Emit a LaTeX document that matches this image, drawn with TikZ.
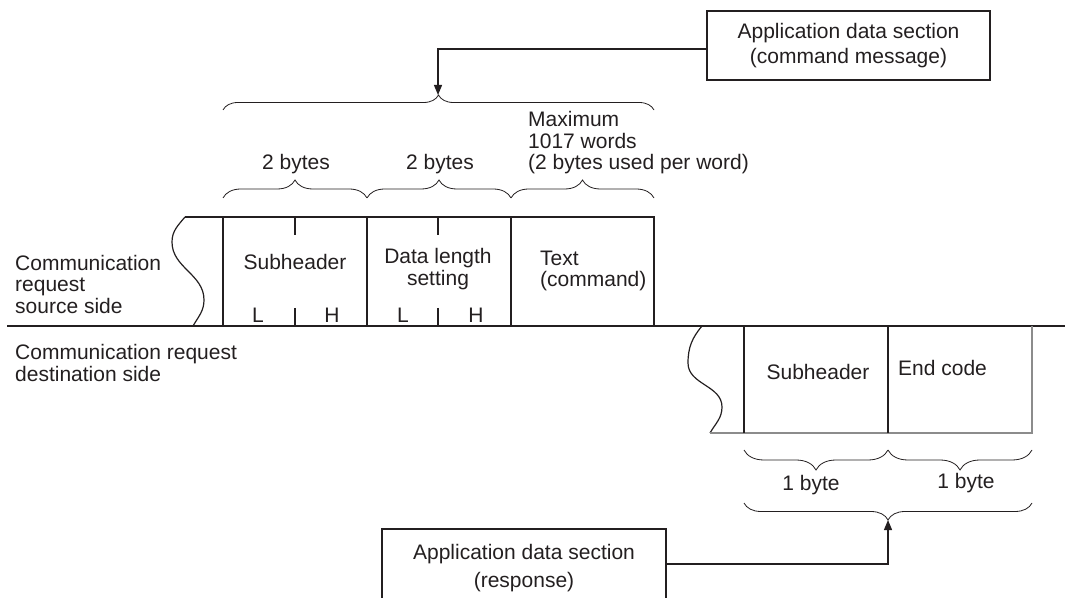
\documentclass[tikz,border=0pt]{standalone}
\usepackage{fontspec}
\setmainfont{Liberation Sans}
\usetikzlibrary{arrows.meta, positioning, calc, decorations.pathreplacing}
\definecolor{inkdark}{RGB}{35,31,32}
\definecolor{edgegray}{RGB}{140,140,140}
\tikzset{
  line/.style={draw=inkdark, line width=1.2pt},
  gline/.style={draw=edgegray, line width=1.2pt},
  arrow/.style={draw=inkdark, line width=1.2pt, -{Triangle[length=10pt, width=8pt]}},
  brace/.style={draw=inkdark, line width=0.8pt, decorate, decoration={brace, amplitude=#1}},
  block/.style={draw=inkdark, line width=1.2pt, rectangle, align=center, inner sep=0pt, text=inkdark, font=\fontsize{21}{21.5}\selectfont},
  lbl/.style={inner sep=0pt, text=inkdark, font=\fontsize{21}{21.5}\selectfont}
}

\begin{document}
\begin{tikzpicture}[x=1pt, y=1pt]
  \useasboundingbox (0,0) rectangle (1065,597);

  % Section boxes
  \node[block, minimum width=283, minimum height=69] (cmdbox) at (848.5,551.5) {Application data section\\[3.5pt](command message)};
  \node[block, minimum width=284, minimum height=78] (respbox) at (524,29) {Application data section\\[6.5pt](response)};

  % Side labels
  \node[lbl, anchor=west, align=left] (srcside) at (15,313) {Communication\\request\\source side};
  \node[lbl, anchor=west, align=left] (dstside) at (15,234) {Communication request\\destination side};

  % Request frame
  \draw[line] (7,271) -- (1065,271);
  \draw[line] (185,380) to[out=-130, in=90] (172,355) to[out=-90, in=90] (204,297) to[out=-90, in=60] (193,271);
  \draw[line] (185,380) -- (654,380) -- (654,271);
  \draw[line] (223,380) -- (223,271);
  \draw[line] (367,380) -- (367,271);
  \draw[line] (511,380) -- (511,271);
  \draw[line] (295,380) -- (295,362);
  \draw[line] (438,380) -- (438,362);
  \draw[line] (295,289) -- (295,271);
  \draw[line] (438,289) -- (438,271);

  \node[lbl] (subreq) at (295,335) {Subheader};
  \node[lbl, align=center] (dlen) at (438,328) {Data length\\setting};
  \node[lbl, anchor=west, align=left] (txtcmd) at (540,326) {Text\\(command)};
  \node[lbl] (subL) at (258,282) {L};
  \node[lbl] (subH) at (332,282) {H};
  \node[lbl] (dlenL) at (403,282) {L};
  \node[lbl] (dlenH) at (476,282) {H};

  % Request braces
  \draw[brace=18] (223,399) -- (367,399);
  \draw[brace=18] (367,399) -- (511,399);
  \draw[brace=18] (511,399) -- (654,399);
  \draw[brace=15] (223,487) -- (654,487);
  \node[lbl] (bytesA) at (296,433) {2 bytes};
  \node[lbl] (bytesB) at (440,433) {2 bytes};
  \node[lbl, anchor=west, align=left] (maxw) at (528,454) {Maximum\\1017 words\\(2 bytes used per word)};

  % Response frame
  \draw[line] (702,271) to[out=-130, in=90] (688,234) to[out=-90, in=90] (722,190) to[out=-90, in=60] (710,164);
  \draw[gline] (710,164) -- (1032,164) -- (1032,271);
  \draw[line] (744,271) -- (744,164);
  \draw[line] (888,271) -- (888,164);
  \node[lbl] (subresp) at (818,225) {Subheader};
  \node[lbl, anchor=west] (endcode) at (898,229) {End code};

  % Response braces
  \draw[brace=20] (888,147) -- (744,147);
  \draw[brace=20] (1032,147) -- (888,147);
  \draw[brace=17] (1032,94) -- (744,94);
  \node[lbl] (byteA) at (811,112) {1 byte};
  \node[lbl] (byteB) at (966,114) {1 byte};

  % Connectors
  \coordinate (cmdtip) at (438,502);
  \coordinate (resptip) at (888,77);
  \draw[arrow] ([yshift=-3.5pt]cmdbox.west) -| (cmdtip);
  \draw[arrow] ([yshift=4pt]respbox.east) -| (resptip);
\end{tikzpicture}
\end{document}
